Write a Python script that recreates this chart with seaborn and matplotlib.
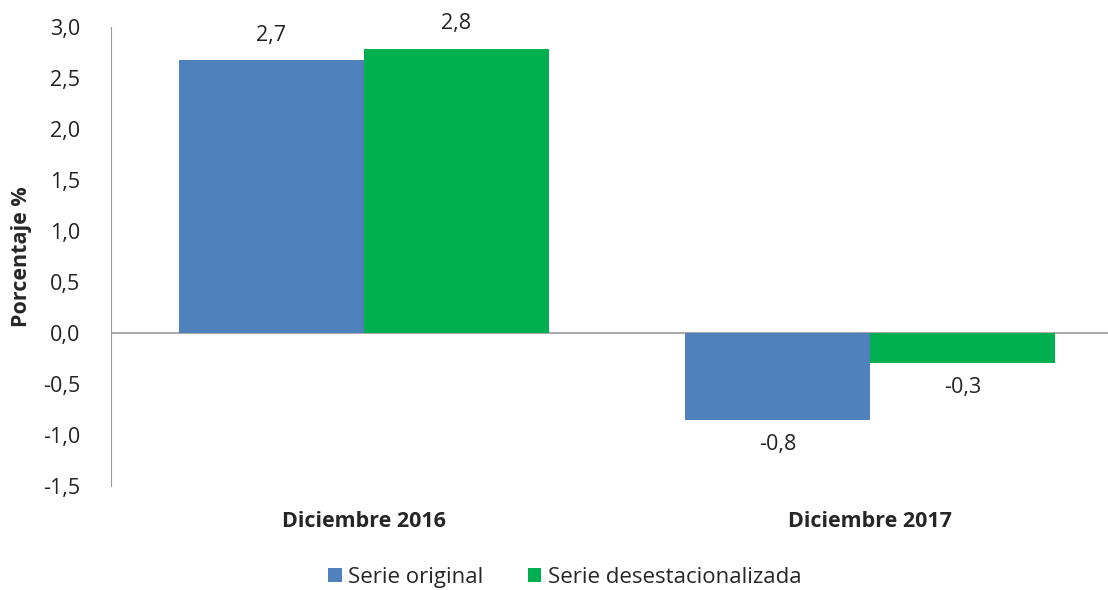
import pandas as pd
import seaborn as sns
import matplotlib.pyplot as plt

# data
periodos = ['Diciembre 2016', 'Diciembre 2017']
serie_original = [2.68, -0.85]
serie_desest = [2.79, -0.29]
etiquetas_original = ['2,7', '-0,8']
etiquetas_desest = ['2,8', '-0,3']

df = pd.DataFrame({
    'periodo': periodos * 2,
    'valor': serie_original + serie_desest,
    'serie': ['Serie original'] * 2 + ['Serie desestacionalizada'] * 2,
})

sns.set_style('white')
plt.rcParams['font.family'] = ['Open Sans', 'DejaVu Sans']

fig = plt.figure(figsize=(11.08, 5.9), dpi=100)
ax = fig.add_axes([0.1, 0.176, 0.9, 0.778])

sns.barplot(
    data=df, x='periodo', y='valor', hue='serie',
    palette=['#4F81BD', '#00B050'], width=0.73, dodge=True,
    errorbar=None, saturation=1, linewidth=0, ax=ax
)

# value labels
for cont, labs in zip(ax.containers, [etiquetas_original, etiquetas_desest]):
    for bar, lab in zip(cont, labs):
        h = bar.get_height()
        x = bar.get_x() + bar.get_width() / 2
        if h >= 0:
            ax.text(x, h + 0.14, lab, ha='center', va='bottom', fontsize=15.5, color='#222222')
        else:
            ax.text(x, h - 0.14, lab, ha='center', va='top', fontsize=15.5, color='#222222')

ax.axhline(0, color='#9a9a9a', lw=1.2, zorder=0)
ax.set_ylim(-1.5, 3.0)
ax.set_xlim(-0.5, 1.47)
yt = [-1.5, -1.0, -0.5, 0.0, 0.5, 1.0, 1.5, 2.0, 2.5, 3.0]
ax.set_yticks(yt)
ax.set_yticklabels([f'{v:.1f}'.replace('.', ',') for v in yt], fontsize=15.5, color='#222222')
ax.tick_params(axis='y', length=0, pad=22)
ax.tick_params(axis='x', length=0, pad=18)
for lab in ax.get_xticklabels():
    lab.set_fontweight('bold')
    lab.set_fontsize(15.5)
ax.set_xlabel('')
ax.set_ylabel('Porcentaje %', fontsize=15.5, fontweight='bold', labelpad=8)

for s in ['top', 'right', 'bottom']:
    ax.spines[s].set_visible(False)
ax.spines['left'].set_color('#9a9a9a')

h, l = ax.get_legend_handles_labels()
ax.get_legend().remove()
fig.legend(h, l, loc='center', bbox_to_anchor=(0.51, 0.022), ncol=2, frameon=False,
           fontsize=16, handlelength=0.6, handleheight=0.6, handletextpad=0.3,
           columnspacing=2.0)

fig.savefig('out.png', dpi=100)
